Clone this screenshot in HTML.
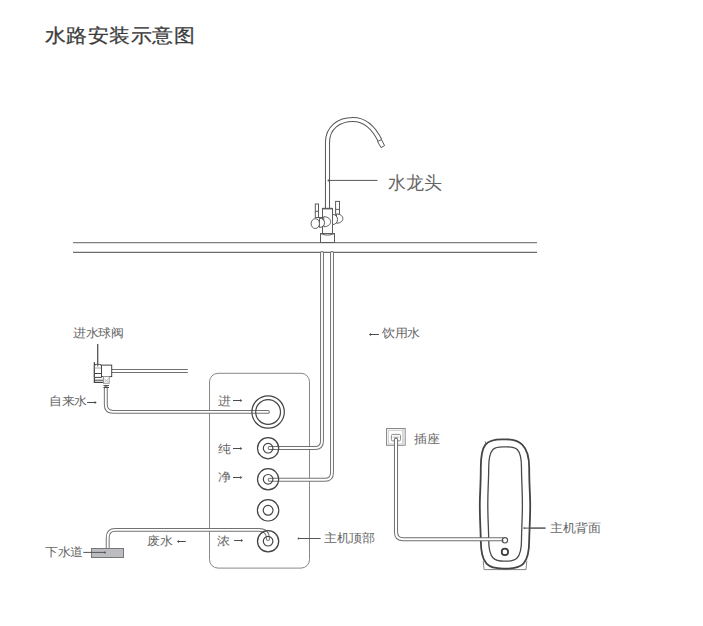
<!DOCTYPE html>
<html><head><meta charset="utf-8">
<style>
html,body{margin:0;padding:0;background:#fff;}
body{width:703px;height:626px;position:relative;overflow:hidden;font-family:"Liberation Sans",sans-serif;}
.t{position:absolute;white-space:nowrap;color:#666;font-size:13px;line-height:1;transform:scale(0.975,0.9);transform-origin:0 0;}
#title{left:45px;top:26px;font-size:21px;letter-spacing:0.42px;color:#3c3c3c;font-weight:500;-webkit-text-stroke:0.3px #3c3c3c;transform:scaleY(0.91);transform-origin:0 0;}
svg{position:absolute;left:0;top:0;}
</style></head>
<body>
<div class="t" id="title">水路安装示意图</div>
<div class="t" style="left:387.5px;top:173.5px;font-size:18px;transform:none;">水龙头</div>
<div class="t" style="left:382px;top:326.7px;">饮用水</div>
<div class="t" style="left:73px;top:326.7px;">进水球阀</div>
<div class="t" style="left:48.6px;top:394.8px;">自来水</div>
<div class="t" style="left:218px;top:394.5px;">进</div>
<div class="t" style="left:218px;top:443px;">纯</div>
<div class="t" style="left:218px;top:471.2px;">净</div>
<div class="t" style="left:147px;top:534.7px;">废水</div>
<div class="t" style="left:217px;top:534.5px;">浓</div>
<div class="t" style="left:45px;top:545.8px;">下水道</div>
<div class="t" style="left:324px;top:532.4px;">主机顶部</div>
<div class="t" style="left:414px;top:432.8px;">插座</div>
<div class="t" style="left:550px;top:521.9px;">主机背面</div>
<svg width="703" height="626" viewBox="0 0 703 626" fill="none">
  <!-- counter -->
  <path d="M73 242.6H537" stroke="#808080" stroke-width="1.2"/>
  <path d="M73 252.4H537" stroke="#6c6c6c" stroke-width="1.1"/>
  <!-- panel -->
  <rect x="209.5" y="373.3" width="100" height="194.8" rx="8.5" stroke="#888" stroke-width="1"/>
  <!-- tubes -->
  <g stroke-linecap="round" stroke-linejoin="round" fill="none">
    <g stroke="#727272" stroke-width="3.9">
      <path d="M322 253V441Q322 448 315 448H269.6"/>
      <path d="M332 253V472.8Q332 479.8 325 479.8H269.6"/>
      <path d="M105.8 388V404.5Q105.8 411.9 113.2 411.9H267.9"/>
      <path d="M107.7 548V537.5Q107.7 529.9 115.3 529.9H259Q268 529.9 268 539"/>
    </g>
    <g stroke="#fff" stroke-width="1.9">
      <path d="M322 253V441Q322 448 315 448H269.6"/>
      <path d="M332 253V472.8Q332 479.8 325 479.8H269.6"/>
      <path d="M105.8 388V404.5Q105.8 411.9 113.2 411.9H267.9"/>
      <path d="M107.7 548V537.5Q107.7 529.9 115.3 529.9H259Q268 529.9 268 539"/>
    </g>
  </g>
  <!-- faucet -->
  <g stroke-linecap="butt">
    <path d="M327.5 209V142.5C327.5 127.5 339 119.5 353 119.5C365.5 119.5 374 128.5 380 140.5" stroke="#555" stroke-width="5.1"/>
    <path d="M327.5 209V142.5C327.5 127.5 339 119.5 353 119.5C365.5 119.5 374 128.5 380 140.5" stroke="#fff" stroke-width="3.1"/>
    <path d="M377.6 141.6L381.4 139.6L384.6 145.6L381.0 147.6Z" stroke="#555" stroke-width="1" fill="#fff"/>
  </g>
  <g stroke="#5c5c5c" stroke-width="1" fill="#fff">
    <rect x="320.5" y="233.5" width="14" height="9"/>
    <path d="M320.5 233.5Q327.7 236.8 334.5 233.5" fill="none"/>
    <rect x="322.5" y="208.5" width="10" height="25"/>
    <path d="M322.5 208.6H332.5" stroke-width="1.6"/>
    <!-- left lever -->
    <rect x="315.3" y="204" width="3.2" height="13.5"/>
    <path d="M315.3 211.3H318.5"/>
    <path d="M318.5 217.5H322.5"/>
    <path d="M323.7 216.7C332.9 216.7 332.9 226.7 323.7 226.7Z"/>
    <path d="M319.5 218.2C326.2 218.2 326.2 227.4 319.5 227.4Z"/>
    <ellipse cx="315.3" cy="223.6" rx="4.2" ry="4.9"/>
    <!-- right lever -->
    <rect x="335.6" y="201.4" width="3.9" height="13"/>
    <path d="M335.6 209.4H339.5"/>
    <path d="M336.5 214C345 214 345 223.2 336.5 223.2Z"/>
    <path d="M332.5 214.4C339.2 214.4 339.2 224.6 332.5 224.6Z"/>
  </g>
  <!-- faucet leader -->
  <path d="M328.5 180.4H377.5" stroke="#555" stroke-width="1"/>
  <circle cx="328.5" cy="180.4" r="1" fill="#555"/>
  <!-- ports -->
  <g stroke="#444" fill="none" stroke-width="1.2">
    <circle cx="268.1" cy="412" r="16.2"/>
    <circle cx="268.1" cy="412" r="12.4"/>
    <circle cx="268.1" cy="448.2" r="10.6"/>
    <circle cx="268.1" cy="448.2" r="4.8"/>
    <circle cx="268.1" cy="479.3" r="10.6"/>
    <circle cx="268.1" cy="479.3" r="4.8"/>
    <circle cx="268.1" cy="510.3" r="10.7"/>
    <circle cx="268.1" cy="510.3" r="4.9"/>
    <circle cx="268.1" cy="541.2" r="10.6" stroke-width="1.3"/>
    <circle cx="268.1" cy="541.2" r="4.8"/>
  </g>
  <!-- arrows -->
  <g stroke="#4a4a4a" stroke-width="1" fill="#4a4a4a">
    <path d="M87.1 402.5H95"/><path d="M94.6 401.1L96.7 402.5L94.6 403.9Z" stroke="none"/>
    <path d="M233 400.5H240.6"/><path d="M240.2 399.1L242.3 400.5L240.2 401.9Z" stroke="none"/>
    <path d="M233 448.5H240.6"/><path d="M240.2 447.1L242.3 448.5L240.2 449.9Z" stroke="none"/>
    <path d="M233 477.5H240.6"/><path d="M240.2 476.1L242.3 477.5L240.2 478.9Z" stroke="none"/>
    <path d="M234.2 540.5H241.4"/><path d="M241 539.1L243.1 540.5L241 541.9Z" stroke="none"/>
    <path d="M178.6 541.5H185.8"/><path d="M179 540.1L176.9 541.5L179 542.9Z" stroke="none"/>
    <path d="M370.6 334.5H378.9"/><path d="M371 333.1L368.9 334.5L371 335.9Z" stroke="none"/>
  </g>
  <!-- leaders -->
  <g stroke="#555" stroke-width="1">
    <path d="M298.5 538.5H320.6"/>
    <path d="M524.3 528.1H545.5"/>
    <path d="M97.7 344V366.5"/>
  </g>
  <g fill="#555">
    <circle cx="298.5" cy="538.5" r="0.9"/>
    <circle cx="524.3" cy="528.1" r="0.9"/>
  </g>
  <!-- drain -->
  <rect x="91.5" y="548.5" width="32" height="9" fill="#bcbdc1" stroke="#777" stroke-width="1"/>
  <path d="M83.3 552.4H105" stroke="#555" stroke-width="1"/>
  <circle cx="105" cy="552.4" r="1" fill="#555"/>
  <!-- valve -->
  <path d="M111.7 369.5H187.8M111.7 372.5H187.8" stroke="#707070" stroke-width="1"/>
  <g stroke="#444" stroke-width="1" fill="none">
    <path d="M94.4 362.3V382.3H103.8" stroke-width="1.3"/>
    <path d="M94.4 380.2H103.8"/>
    <path d="M94.4 377.4V366.3Q94.4 364.4 96.3 364.4H99.5Q101.5 364.4 101.5 366.3V377.4Z" fill="#fff"/>
    <path d="M94.6 368H101.3" stroke="#aaa"/>
    <path d="M94.6 373.5H101.3"/>
    <rect x="101.5" y="365.1" width="10.2" height="11.5" fill="#fff"/>
    <rect x="103.5" y="376.6" width="5.7" height="6.7" stroke="#999" fill="#fff"/>
    <path d="M104.2 378.8L108.5 382.3M108.5 378.8L104.2 382.3" stroke="#bbb"/>
    <path d="M103.5 385.6H109M103.5 387.5H109"/>
  </g>
  <path d="M97.7 344V366.5" stroke="#555" stroke-width="1"/>
  <!-- socket -->
  <rect x="386.5" y="428.5" width="18.7" height="16.8" fill="#f2f2f2" stroke="#8a8a8a" stroke-width="1"/>
  <rect x="402.6" y="429" width="2.1" height="15.8" fill="#dcdcdc"/>
  <rect x="388.4" y="430.6" width="14.2" height="13.3" fill="#fff" stroke="#cfcfcf" stroke-width="0.9"/>
  <rect x="391.4" y="434.4" width="9.1" height="6.5" rx="1.2" fill="#fafafa" stroke="#8a8a8a" stroke-width="1"/>
  <path d="M392.8 437.2H399.2" stroke="#bbb" stroke-width="0.8"/>
  <path d="M394.4 438.2H397.6" stroke="#555" stroke-width="1.2"/>
  <!-- host back -->
  <path d="M483.2 561.2L484.1 569.6H526L526.8 561.2" stroke="#777" stroke-width="0.9" fill="#fff"/>
  <path d="M502 439.3H506C518.3 439.3 529.2 443.9 529.2 468C529.2 485 530.2 495 530.2 505C530.2 520 529.4 530 529.2 540C529.2 565.1 521.3 568.6 507 568.6H503C488.7 568.6 480.8 565.1 480.8 540C480.6 530 479.8 520 479.8 505C479.8 495 480.8 485 480.8 468C480.8 443.8 486.1 439.3 502 439.3Z" stroke="#444" stroke-width="1.8" fill="#fff"/>
  <path d="M503 446.9H507.2C514.9 446.9 521.5 446.9 521.5 468C521.5 480 522.4 490 522.4 505C522.4 520 521.5 530 521.5 540C521.5 559.8 514.7 561.2 506.2 561.2H504C495.5 561.2 488.7 559.8 488.7 540C488.7 530 487.8 520 487.8 505C487.8 490 488.7 480 488.7 468C488.7 446.9 495.3 446.9 503 446.9Z" stroke="#4a4a4a" stroke-width="1.3" fill="none"/>
  <path d="M524.3 528.1H545.5" stroke="#555" stroke-width="1"/>
  <circle cx="524.3" cy="528.1" r="0.9" fill="#555"/>
  <path d="M485.2 441.4L486.1 444.6L488.2 442.6" stroke="#555" stroke-width="0.8" fill="none"/>
  <!-- power cord (over host) -->
  <g stroke-linecap="round" stroke-linejoin="round" fill="none">
    <path d="M396 439V532Q396 539.3 403.3 539.3H503.6" stroke="#6e6e6e" stroke-width="4.1" stroke-linecap="butt"/>
    <path d="M396 439V532Q396 539.3 403.3 539.3H503.6" stroke="#fff" stroke-width="2.1" stroke-linecap="butt"/>
  </g>
  <circle cx="504.9" cy="540.3" r="2.7" stroke="#555" stroke-width="1.1"/>
  <circle cx="504.9" cy="551.9" r="3.2" stroke="#3c3c3c" stroke-width="1.7"/>
</svg>
</body></html>
